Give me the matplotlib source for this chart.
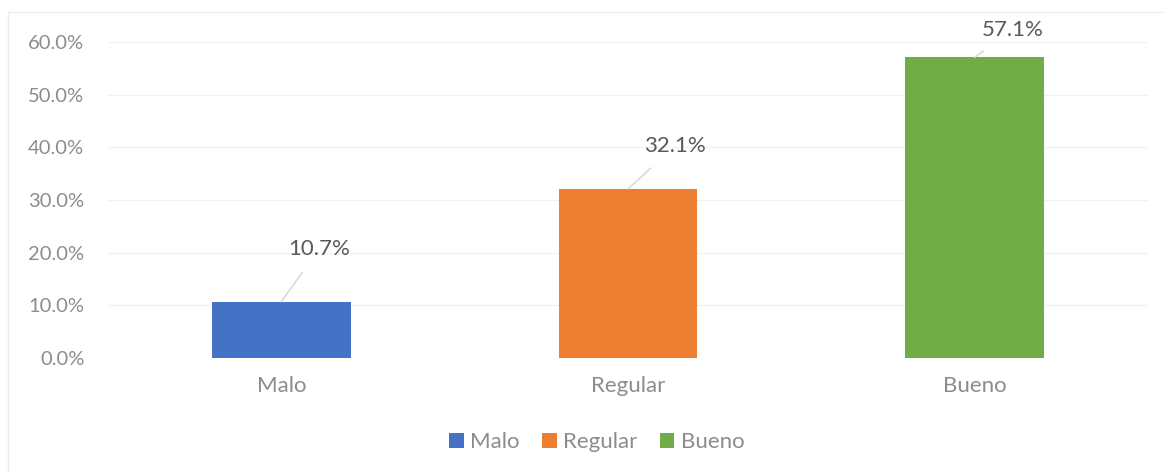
import numpy as np
import matplotlib.pyplot as plt
from matplotlib.patches import Rectangle
from matplotlib.ticker import PercentFormatter

# Datos
categorias = ["Malo", "Regular", "Bueno"]
porcentajes = [0.107, 0.321, 0.571]
colores = ["#4472C4", "#ED7D31", "#70AD47"]
etiquetas = ["10.7%", "32.1%", "57.1%"]
ticks_y = [0.0, 0.1, 0.2, 0.3, 0.4, 0.5, 0.6]

plt.rcParams['font.family'] = ['Lato', 'DejaVu Sans']

fig = plt.figure(figsize=(11.64, 4.72), dpi=100, facecolor='w')
ax = fig.add_axes([108 / 1164, 1 - 358 / 472, (1148 - 108) / 1164, (358 - 42) / 472])

# Marco del grafico
fig.patches.append(Rectangle((8 / 1164, -0.1), 1.2, 1 - 12 / 472 + 0.1,
                             transform=fig.transFigure, fill=False,
                             edgecolor='#EDEDED', linewidth=1, zorder=0))

x = np.arange(len(categorias))
barras = ax.bar(x, porcentajes, width=0.4, color=colores, zorder=3, label=categorias)

ax.set_xlim(-0.5, len(categorias) - 0.5)
ax.set_ylim(0, 0.6)
ax.set_yticks(ticks_y)
ax.yaxis.set_major_formatter(PercentFormatter(1.0, decimals=1))
ax.set_xticks(x)
ax.set_xticklabels(categorias)

ax.grid(axis='y', color='#F2F2F2', linewidth=1, zorder=0)
for s in ax.spines.values():
    s.set_visible(False)
ax.tick_params(axis='y', length=0, labelsize=14.5, labelcolor='#8C8C8C', pad=17)
ax.tick_params(axis='x', length=0, labelsize=16, labelcolor='#8C8C8C', pad=13)

# Etiquetas de datos con lineas guia (desplazamientos en pixeles)
desplazamientos = [(38, 53), (47, 43), (38, 27)]
for xi, v, txt, (dx, dy) in zip(x, porcentajes, etiquetas, desplazamientos):
    ax.annotate(txt, xy=(xi, v), xytext=(dx, dy), textcoords='offset pixels',
                ha='center', va='center', fontsize=16, color='#595959',
                annotation_clip=False,
                arrowprops=dict(arrowstyle='-', color='#D9D9D9', lw=1.2,
                                shrinkA=10, shrinkB=0))

# Leyenda
fig.legend(barras, categorias, loc='center', bbox_to_anchor=(597 / 1164, 1 - 442 / 472),
           ncol=3, frameon=False, fontsize=16, labelcolor='#8C8C8C',
           handlelength=0.65, handleheight=0.65, handletextpad=0.3, columnspacing=1.0)

fig.savefig("out.png", dpi=100, facecolor='w')
